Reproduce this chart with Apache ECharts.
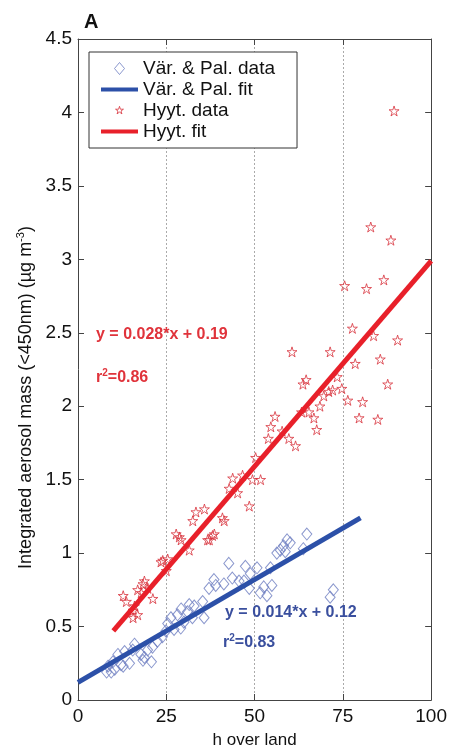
<!DOCTYPE html>
<html>
<head>
<meta charset="utf-8">
<script src="https://cdn.jsdelivr.net/npm/echarts@6/dist/echarts.min.js"></script>
<style>
  html, body { margin: 0; padding: 0; background: #fff; }
  #chart { width: 450px; height: 754px; }
</style>
</head>
<body>
<div id="chart"></div>
<script>
// x ticks / y ticks
const xTicks = [0, 25, 50, 75, 100];
const yTicks = [0, 0.5, 1, 1.5, 2, 2.5, 3, 3.5, 4, 4.5];

// Vär. & Pal. data (h over land, aerosol mass)
const varPalData = [
  [8.1, 0.19], [8.5, 0.23], [9.4, 0.19], [9.9, 0.26], [10.4, 0.21], [11.3, 0.31],
  [12.2, 0.24], [12.8, 0.23], [13.2, 0.33], [14.6, 0.25], [15.5, 0.34], [16.0, 0.38],
  [17.8, 0.31], [18.4, 0.27], [18.8, 0.29], [19.7, 0.34], [20.8, 0.26], [21.1, 0.36],
  [22.5, 0.40], [23.9, 0.43], [24.9, 0.47], [25.4, 0.52], [26.3, 0.56], [27.2, 0.48],
  [28.2, 0.58], [29.1, 0.49], [29.2, 0.62], [30.0, 0.53], [31.0, 0.60], [31.5, 0.65],
  [32.4, 0.56], [32.9, 0.64], [35.3, 0.67], [35.7, 0.56], [37.1, 0.76], [38.5, 0.82],
  [39.0, 0.78], [41.3, 0.79], [42.7, 0.93], [43.7, 0.83], [45.6, 0.81], [47.0, 0.81],
  [47.4, 0.91], [48.5, 0.76], [48.8, 0.86], [50.7, 0.90], [51.6, 0.73], [52.6, 0.77],
  [53.5, 0.71], [54.5, 0.90], [54.9, 0.78], [56.3, 1.00], [57.3, 1.02], [58.2, 1.05],
  [58.7, 1.01], [59.2, 1.09], [60.1, 1.07], [63.8, 1.03], [64.8, 1.13], [71.4, 0.70],
  [72.3, 0.75]
];
// Vär. & Pal. fit end points
const varPalFit = [[0, 0.12], [80, 1.24]];

// Hyyt. data
const hyytData = [
  [12.8, 0.71], [13.7, 0.67], [15.6, 0.61], [16.0, 0.64], [15.6, 0.56], [16.9, 0.58],
  [16.9, 0.75], [17.9, 0.73], [18.4, 0.79], [18.8, 0.81], [19.8, 0.76], [21.2, 0.69],
  [23.5, 0.94], [24.0, 0.95], [25.4, 0.96], [25.0, 0.88], [27.8, 1.13], [28.7, 1.11],
  [29.2, 1.09], [31.5, 1.02], [32.5, 1.22], [33.4, 1.28], [35.8, 1.30], [36.7, 1.09],
  [37.2, 1.09], [38.1, 1.12], [38.6, 1.13], [40.9, 1.24], [41.4, 1.22], [42.8, 1.44],
  [43.8, 1.51], [45.2, 1.41], [46.6, 1.53], [48.5, 1.32], [49.4, 1.50], [50.3, 1.65],
  [51.7, 1.50], [53.9, 1.78], [54.6, 1.86], [55.8, 1.93], [57.8, 1.83], [59.7, 1.78],
  [61.6, 1.73], [60.6, 2.37], [63.3, 1.96], [63.7, 2.15], [64.6, 2.18], [65.4, 1.96],
  [66.8, 1.92], [67.6, 1.84], [68.5, 2.00], [69.6, 2.07], [71.0, 2.10], [72.1, 2.11],
  [71.4, 2.37], [73.4, 2.20], [74.7, 2.12], [75.5, 2.82], [76.4, 2.04], [77.7, 2.53],
  [78.5, 2.29], [79.6, 1.92], [80.6, 2.03], [81.7, 2.80], [82.9, 3.22], [83.7, 2.48],
  [84.9, 1.91], [85.6, 2.32], [86.6, 2.86], [87.7, 2.15], [88.6, 3.13], [89.5, 4.01],
  [90.5, 2.45]
];
// Hyyt. fit end points
const hyytFit = [[10, 0.47], [100, 2.99]];

const FONT = 'Liberation Sans, Arial, sans-serif';
const STAR_PATH = 'M50,0 L61.17,34.63 L97.55,34.55 L68.07,55.87 L79.39,90.45 L50,69 L20.61,90.45 L31.93,55.87 L2.45,34.55 L38.83,34.63 Z';
const STAR = 'path://' + STAR_PATH;
const DIAMOND = 'path://M5,0 L10,6 L5,12 L0,6 Z';
// 图例图标 (legend icons: padded with empty moves so they draw smaller)
const STAR_ICON = 'path://M-22,-22 M122,122 ' + STAR_PATH;
const DIAMOND_ICON = 'path://M-1,0 M11,12 M5,0 L10,6 L5,12 L0,6 Z';
const LINE_ICON = 'path://M0,0 L40,0 L40,4.5 L0,4.5 Z';

const blue = '#2c50a8';
const red = '#e8202a';
const diamondColor = '#6d7dc0';
const starColor = '#d8323c';
const axisColor = '#444';

// 坐标轴公共配置 (MATLAB style box, ticks inside)
const boxAxis = {
  axisLine: { show: true, onZero: false, lineStyle: { color: axisColor, width: 1 } },
  axisTick: { show: true, inside: true, length: 6, lineStyle: { color: axisColor } }
};

const chart = echarts.init(document.getElementById('chart'));
chart.setOption({
  animation: false,
  backgroundColor: '#fff',
  title: {
    text: 'A',
    left: 79,
    top: 7,
    textStyle: { fontFamily: FONT, fontSize: 20, fontWeight: 'bold', color: '#111' }
  },
  grid: { left: 78, right: 17, top: 39, bottom: 52 },
  legend: {
    orient: 'vertical',
    left: 89,
    top: 52,
    padding: [7, 22, 7, 12],
    itemWidth: 37,
    itemHeight: 12,
    itemGap: 2,
    itemTextGap: 7,
    borderColor: '#333',
    borderWidth: 1,
    backgroundColor: '#fff',
    textStyle: { fontFamily: FONT, fontSize: 19, color: '#111' },
    data: [
      {
        name: 'Vär. & Pal. data',
        icon: DIAMOND_ICON,
        itemStyle: { color: '#fff', borderColor: diamondColor, borderWidth: 1 }
      },
      { name: 'Vär. & Pal. fit', icon: LINE_ICON, itemStyle: { color: blue, borderWidth: 0 } },
      {
        name: 'Hyyt. data',
        icon: STAR_ICON,
        itemStyle: { color: '#fff', borderColor: starColor, borderWidth: 1 }
      },
      { name: 'Hyyt. fit', icon: LINE_ICON, itemStyle: { color: red, borderWidth: 0 } }
    ]
  },
  xAxis: [
    Object.assign({}, boxAxis, {
      type: 'value',
      min: xTicks[0],
      max: xTicks[xTicks.length - 1],
      interval: 25,
      name: 'h over land',
      nameLocation: 'middle',
      nameGap: 32,
      nameTextStyle: { fontFamily: FONT, fontSize: 17, color: '#111' },
      axisLabel: { fontFamily: FONT, fontSize: 19, color: '#111', margin: 7 },
      splitLine: { show: true, lineStyle: { type: [2, 2], color: '#aaa', width: 1 } }
    }),
    Object.assign({}, boxAxis, {
      type: 'value',
      position: 'top',
      min: xTicks[0],
      max: xTicks[xTicks.length - 1],
      interval: 25,
      axisLabel: { show: false },
      splitLine: { show: false }
    })
  ],
  yAxis: [
    Object.assign({}, boxAxis, {
      type: 'value',
      min: yTicks[0],
      max: yTicks[yTicks.length - 1],
      interval: 0.5,
      name: '{n|Integrated aerosol mass (<450nm) (µg m}{s|-3}{n|)}',
      nameLocation: 'middle',
      nameRotate: 90,
      nameGap: 38,
      nameTextStyle: {
        fontFamily: FONT,
        fontSize: 18,
        color: '#111',
        padding: [0, 56, 0, 0],
        rich: {
          n: { fontFamily: FONT, fontSize: 18, color: '#111' },
          s: { fontFamily: FONT, fontSize: 11, color: '#111', padding: [0, 0, 10, 0] }
        }
      },
      axisLabel: { fontFamily: FONT, fontSize: 19, color: '#111', margin: 6 },
      splitLine: { show: false }
    }),
    Object.assign({}, boxAxis, {
      type: 'value',
      position: 'right',
      min: yTicks[0],
      max: yTicks[yTicks.length - 1],
      interval: 0.5,
      axisLabel: { show: false },
      splitLine: { show: false }
    })
  ],
  series: [
    {
      name: 'Vär. & Pal. data',
      type: 'scatter',
      data: varPalData,
      symbol: DIAMOND,
      symbolSize: [10, 12],
      itemStyle: { color: 'rgba(0,0,0,0)', borderColor: diamondColor, borderWidth: 1 },
      z: 2
    },
    {
      name: 'Vär. & Pal. fit',
      type: 'line',
      data: varPalFit,
      symbol: 'none',
      lineStyle: { color: blue, width: 5 },
      itemStyle: { color: blue },
      z: 3
    },
    {
      name: 'Hyyt. data',
      type: 'scatter',
      data: hyytData,
      symbol: STAR,
      symbolSize: 10,
      itemStyle: { color: 'rgba(0,0,0,0)', borderColor: starColor, borderWidth: 1 },
      z: 4
    },
    {
      name: 'Hyyt. fit',
      type: 'line',
      data: hyytFit,
      symbol: 'none',
      lineStyle: { color: red, width: 5 },
      itemStyle: { color: red },
      z: 5
    }
  ],
  graphic: [
    {
      type: 'text',
      left: 96,
      top: 327,
      z: 10,
      style: { text: 'y = 0.028*x + 0.19', font: 'bold 16px ' + FONT, fill: '#e0333b' }
    },
    {
      type: 'text',
      left: 96,
      top: 368,
      z: 10,
      style: {
        text: '{a|r}{b|2}{a|=0.86}',
        rich: {
          a: { font: 'bold 16px ' + FONT, fill: '#e0333b' },
          b: { font: 'bold 10px ' + FONT, fill: '#e0333b', padding: [0, 0, 9, 0] }
        }
      }
    },
    {
      type: 'text',
      left: 225,
      top: 605,
      z: 10,
      style: { text: 'y = 0.014*x + 0.12', font: 'bold 16px ' + FONT, fill: '#3a4f9e' }
    },
    {
      type: 'text',
      left: 223,
      top: 633,
      z: 10,
      style: {
        text: '{a|r}{b|2}{a|=0.83}',
        rich: {
          a: { font: 'bold 16px ' + FONT, fill: '#3a4f9e' },
          b: { font: 'bold 10px ' + FONT, fill: '#3a4f9e', padding: [0, 0, 9, 0] }
        }
      }
    }
  ]
});
</script>
</body>
</html>
